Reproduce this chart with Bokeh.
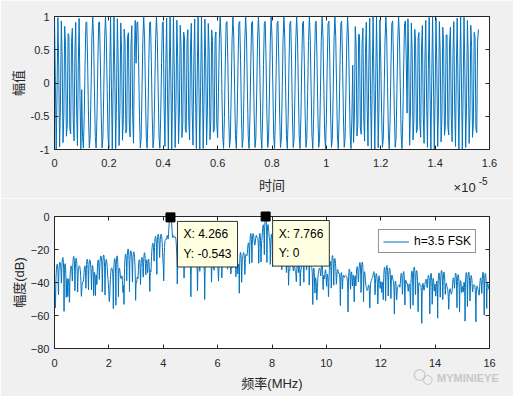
import numpy as np
from bokeh.plotting import figure
from bokeh.layouts import column
from bokeh.core.properties import value
from bokeh.models import (FixedTicker, CustomJSTickFormatter, LinearAxis, Label,
                          Legend, LegendItem, Range1d)
from bokeh.embed import file_html
from bokeh.resources import INLINE

# ---------------- data ----------------
bits = [1, 0, 1, 0, 1, 1, 0, 0, 0, 0, 0, 1, 0, 1, 1, 1]   # 1 -> high tone
freq_low_mhz = 4.266
freq_high_mhz = 7.766
sample_rate_mhz = 32.0
bit_rate_mhz = 1.0
n_samples = 500
fft_len = 4096

tip_x = [4.266, 7.766]
tip_y = [-0.543, 0.0]
tip_text = ["X: 4.266\nY: -0.543", "X: 7.766\nY: 0"]

time_ticks = [0, 0.2, 0.4, 0.6, 0.8, 1.0, 1.2, 1.4, 1.6]      # x 1e-5 s
amp_ticks = [-1, -0.5, 0, 0.5, 1]
freq_ticks = [0, 2, 4, 6, 8, 10, 12, 14, 16]
db_ticks = [-80, -60, -40, -20, 0]
legend_label = "h=3.5 FSK"

# ---------------- FSK waveform (tone per symbol) and its spectrum ----------------
spb = int(round(sample_rate_mhz / bit_rate_mhz))
n_idx = np.arange(n_samples)
t_us = n_idx / sample_rate_mhz
inst_f = np.array([freq_high_mhz if bits[n // spb] else freq_low_mhz for n in n_idx])
signal = np.cos(2 * np.pi * inst_f * t_us)
t_axis = t_us / 10.0          # units of 1e-5 s

spec = np.abs(np.fft.fft(signal, fft_len))[: fft_len // 2 + 1]
spec_db = 20 * np.log10(spec / spec.max())
freqs = np.arange(fft_len // 2 + 1) * sample_rate_mhz / fft_len

# ---------------- styling helpers ----------------
BLUE = "#0072BD"
AX = "#262626"
BG = "#F0F0F0"
LAT = "'Liberation Sans', 'Noto Sans CJK SC'"
CJK = "'Noto Sans CJK SC'"


def style_axis(ax, standoff):
    ax.axis_line_color = None
    ax.major_tick_in = 4
    ax.major_tick_out = 0
    ax.minor_tick_in = 0
    ax.minor_tick_out = 0
    ax.major_tick_line_color = AX
    ax.major_label_text_font = "Liberation Sans"
    ax.major_label_text_font_size = "11px"
    ax.major_label_text_color = AX
    ax.major_label_standoff = standoff
    ax.axis_label_text_font_style = "normal"
    ax.axis_label_text_color = AX
    ax.axis_label_text_font_size = "13px"


def mirror_axes(p, xt, yt):
    blank = CustomJSTickFormatter(code="return '';")
    for loc, tk in (("above", xt), ("right", yt)):
        ax = LinearAxis(ticker=FixedTicker(ticks=tk), formatter=blank)
        ax.axis_line_color = None
        ax.major_tick_in = 4
        ax.major_tick_out = 0
        ax.minor_tick_in = 0
        ax.minor_tick_out = 0
        ax.major_tick_line_color = AX
        ax.major_label_standoff = 0
        ax.major_label_text_font_size = "1px"
        p.add_layout(ax, loc)


# ---------------- top: time signal ----------------
p1 = figure(width=513, height=198, x_range=Range1d(0, 1.6), y_range=Range1d(-1, 1),
            output_backend="svg", toolbar_location=None,
            background_fill_color="white", border_fill_color=BG,
            min_border_left=54, min_border_right=24, min_border_top=16, min_border_bottom=49)
p1.outline_line_color = AX
p1.grid.visible = False
p1.line(t_axis, signal, color=BLUE, line_width=1)
p1.xaxis.ticker = FixedTicker(ticks=time_ticks)
p1.yaxis.ticker = FixedTicker(ticks=amp_ticks)
p1.xaxis.formatter = CustomJSTickFormatter(code="return String(Math.round(tick*10)/10);")
p1.yaxis.formatter = CustomJSTickFormatter(code="return String(Math.round(tick*10)/10);")
style_axis(p1.xaxis[0], 9)
style_axis(p1.yaxis[0], 5)
p1.xaxis.axis_label = "时间"
p1.xaxis.axis_label_text_font = CJK
p1.xaxis.axis_label_standoff = 5
p1.yaxis.axis_label = "幅值"
p1.yaxis.axis_label_text_font = CJK
p1.yaxis.axis_label_standoff = 1
mirror_axes(p1, time_ticks, amp_ticks)
# exponent note of the time axis (drawn unclipped, below the frame)
p1.text(x=[1.468], y=[-1.571], text=["×10"], text_font=value("Liberation Sans"),
        text_font_size="13px", text_color=AX, text_baseline="middle",
        text_align="left", level="overlay")
p1.text(x=[1.560], y=[-1.475], text=["-5"], text_font=value("Liberation Sans"),
        text_font_size="10px", text_color=AX, text_baseline="middle",
        text_align="left", level="overlay")

# ---------------- bottom: spectrum ----------------
p2 = figure(width=513, height=198, x_range=Range1d(0, 16), y_range=Range1d(-80, 0),
            output_backend="svg", toolbar_location=None,
            background_fill_color="white", border_fill_color=BG,
            min_border_left=54, min_border_right=24, min_border_top=18, min_border_bottom=48)
p2.outline_line_color = AX
p2.grid.visible = False
r_spec = p2.line(freqs, spec_db, color=BLUE, line_width=1)
p2.xaxis.ticker = FixedTicker(ticks=freq_ticks)
p2.yaxis.ticker = FixedTicker(ticks=db_ticks)
style_axis(p2.xaxis[0], 10)
style_axis(p2.yaxis[0], 5)
p2.xaxis.axis_label = "频率(MHz)"
p2.xaxis.axis_label_text_font = LAT
p2.xaxis.axis_label_standoff = 6
p2.yaxis.axis_label = "幅度(dB)"
p2.yaxis.axis_label_text_font = LAT
p2.yaxis.axis_label_standoff = 1
mirror_axes(p2, freq_ticks, db_ticks)

legend = Legend(items=[LegendItem(label=legend_label, renderers=[r_spec])],
                location="top_right", margin=13, padding=4, spacing=0,
                border_line_color=AX, border_line_width=1,
                background_fill_color="white", background_fill_alpha=1,
                label_text_font="Liberation Sans", label_text_font_size="12px",
                label_text_color="black", glyph_width=26, glyph_height=11,
                label_standoff=5, label_height=11)
p2.add_layout(legend)

for tx, ty, tt in zip(tip_x, tip_y, tip_text):
    p2.add_layout(Label(x=tx, y=ty, x_offset=7, y_offset=-4, text=tt,
                        text_font="Liberation Sans", text_font_size="12px",
                        text_color="black", text_baseline="top", text_align="left",
                        text_line_height=1.4, padding=6,
                        background_fill_color="#FFFFE1", background_fill_alpha=1,
                        border_line_color="#333333", border_line_width=1))
# data-tip markers, drawn on the overlay level so they are not clipped at the frame edge
p2.scatter(tip_x, tip_y, marker="square", size=9, color="black", level="overlay")

# watermark (icon drawn as two ring characters, then the name)
p2.text(x=[13.43], y=[-95.6], text=["○"], text_font=value("DejaVu Sans"),
        text_font_size="15px", text_color="#BDBDBD", text_baseline="middle",
        text_align="center", level="overlay")
p2.text(x=[13.72], y=[-98.2], text=["○"], text_font=value("DejaVu Sans"),
        text_font_size="12px", text_color="#BDBDBD", text_baseline="middle",
        text_align="center", level="overlay")
p2.text(x=[14.07], y=[-97.6], text=["MYMINIEYE"], text_font=value("Liberation Sans"),
        text_font_size="11px", text_font_style="bold", text_color="#C8C8C8",
        text_baseline="middle", text_align="left", level="overlay")

layout = column(p1, p2, spacing=0)
open("out.html", "w").write(file_html(layout, INLINE))
